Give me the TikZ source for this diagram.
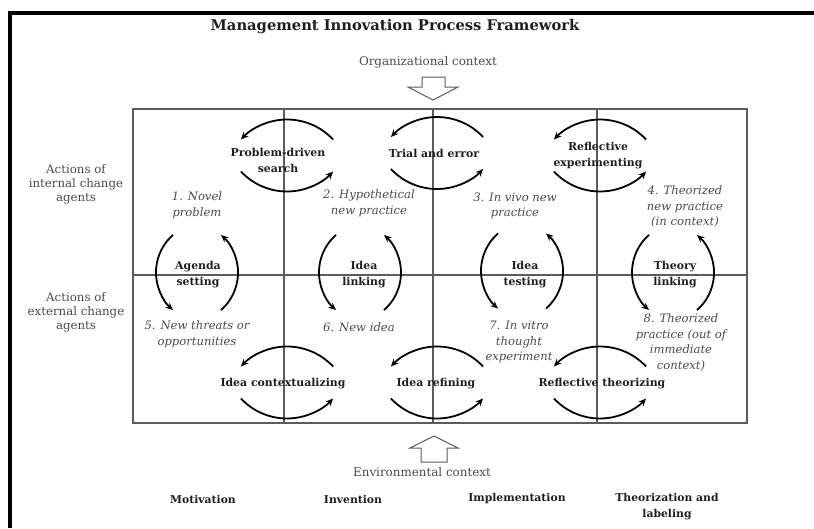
\documentclass[tikz,border=0pt]{standalone}
\usepackage{fontspec}
\setmainfont{DejaVu Serif}
\usetikzlibrary{arrows.meta}
\definecolor{gridc}{HTML}{5C5C5C}
\definecolor{softtext}{HTML}{4A4A4A}
\definecolor{darktext}{HTML}{1E1E1E}
\tikzset{
  cycarrow/.style={line width=1.8pt, draw=black, -{Stealth[length=7.5pt,width=6.5pt]}},
  gridline/.style={draw=gridc, line width=1.2pt},
  hollow/.style={draw=gridc, line width=1pt, fill=white, line join=miter},
  boldlab/.style={font=\bfseries\fontsize{10.9}{16}\selectfont, text=darktext, align=center, inner sep=0pt},
  itlab/.style={font=\itshape\fontsize{11.6}{15.5}\selectfont, text=softtext, align=center, inner sep=0pt},
  sidelab/.style={font=\fontsize{11.8}{14}\selectfont, text=softtext, align=center, inner sep=0pt},
  ctxlab/.style={font=\fontsize{11.9}{14}\selectfont, text=softtext, inner sep=0pt},
  phaselab/.style={font=\bfseries\fontsize{10.8}{16}\selectfont, text=darktext, align=center, inner sep=0pt},
  hcyc/.pic={
    \draw[cycarrow] (46.07,15.97) arc[start angle=43,end angle=137,radius=63];
    \draw[cycarrow] (-46.07,-15.97) arc[start angle=223,end angle=317,radius=63];
  },
  vcyc/.pic={
    \draw[cycarrow] (-24,37.6) arc[start angle=131.3,end angle=228.7,radius=50];
    \draw[cycarrow] (24,-37.6) arc[start angle=-48.7,end angle=48.7,radius=50];
  }
}
\begin{document}
\begin{tikzpicture}[x=1pt,y=1pt]
\useasboundingbox (0,0) rectangle (814,-528);
% outer frame (top and left)
\draw[line width=4pt, black] (10,-528) -- (10,-13) -- (814,-13);

% title and contexts
\node[font=\bfseries\fontsize{14.7}{17}\selectfont, text=darktext, inner sep=0pt] (title) at (395,-27) {Management Innovation Process Framework};
\node[ctxlab] (orgctx) at (428,-62) {Organizational context};
\node[ctxlab] (envctx) at (422,-472) {Environmental context};

% hollow arrows
\draw[hollow] (422,-77) -- (445,-77) -- (445,-87) -- (458,-87) -- (433,-100) -- (408,-87) -- (422,-87) -- cycle;
\draw[hollow] (421,-462) -- (447,-462) -- (447,-448) -- (458,-448) -- (434,-436) -- (410,-448) -- (421,-448) -- cycle;

% grid
\draw[gridline] (133,-109) rectangle (747,-423);
\draw[gridline] (284,-109) -- (284,-423);
\draw[gridline] (433,-109) -- (433,-423);
\draw[gridline] (597,-109) -- (597,-423);
\draw[gridline] (133,-275) -- (747,-275);

% side labels
\node[sidelab] (internal) at (76,-184) {Actions of\\internal change\\agents};
\node[sidelab] (external) at (76,-312) {Actions of\\external change\\agents};

% cycles
\pic at (287,-155.5) {hcyc};
\pic at (437,-153) {hcyc};
\pic at (600,-155.5) {hcyc};
\pic at (197,-272.5) {vcyc};
\pic at (360,-272.5) {vcyc};
\pic at (522,-271) {vcyc};
\pic at (673,-272.5) {vcyc};
\pic at (287,-382.5) {hcyc};
\pic at (437,-382.5) {hcyc};
\pic at (600,-382.5) {hcyc};

% process labels
\node[boldlab] (pds) at (278,-160) {Problem-driven\\search};
\node[boldlab] (tae) at (434,-153) {Trial and error};
\node[boldlab] (rex) at (598,-156) {Reflective\\experimenting};
\node[boldlab] (ags) at (198,-275) {Agenda\\setting};
\node[boldlab] (ilk) at (364,-275) {Idea\\linking};
\node[boldlab] (its) at (525,-275) {Idea\\testing};
\node[boldlab] (thl) at (675,-275) {Theory\\linking};
\node[boldlab] (ictx) at (283,-384) {Idea contextualizing};
\node[boldlab] (iref) at (436,-384) {Idea refining};
\node[boldlab] (rth) at (602,-384) {Reflective theorizing};

% state labels
\node[itlab] (s1) at (197,-205.5) {1. Novel\\problem};
\node[itlab] (s2) at (369,-203.5) {2. Hypothetical\\new practice};
\node[itlab] (s3) at (515,-206) {3. In vivo new\\practice};
\node[itlab] (s4) at (685,-206.5) {4. Theorized\\new practice\\(in context)};
\node[itlab] (s5) at (197,-334.5) {5. New threats or\\opportunities};
\node[itlab] (s6) at (359,-327) {6. New idea};
\node[itlab] (s7) at (519,-342) {7. In vitro\\thought\\experiment};
\node[itlab] (s8) at (681,-342.5) {8. Theorized\\practice (out of\\immediate\\context)};

% phase labels
\node[phaselab] (mot) at (203,-499) {Motivation};
\node[phaselab] (inv) at (353,-499) {Invention};
\node[phaselab] (imp) at (517,-499) {Implementation};
\node[phaselab] (tha) at (667,-507) {Theorization and\\labeling};
\end{tikzpicture}
\end{document}
